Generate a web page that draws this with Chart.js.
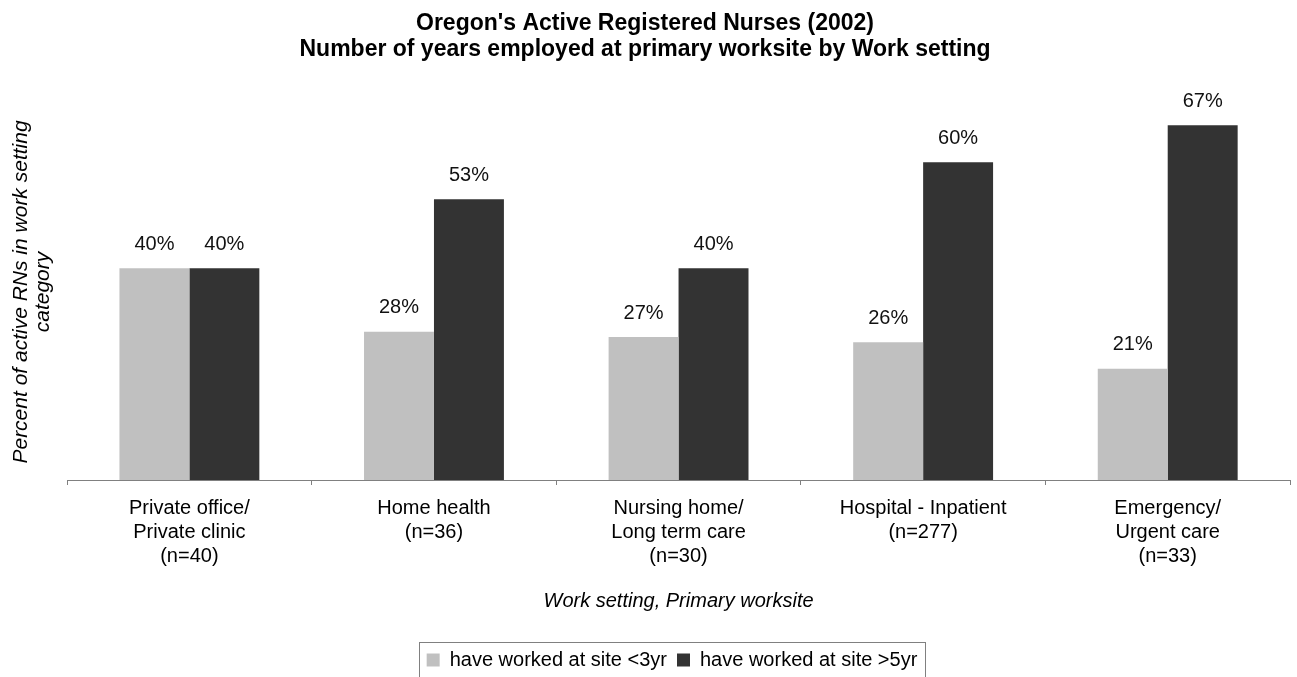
<!DOCTYPE html>
<html>
<head>
<meta charset="utf-8">
<title>Oregon's Active Registered Nurses (2002)</title>
<script src="https://cdn.jsdelivr.net/npm/chart.js@4.4.1/dist/chart.umd.min.js"></script>
<style>
  html, body { margin: 0; padding: 0; background: #fff; }
  #wrap { width: 1297px; height: 677px; }
</style>
</head>
<body>
<div id="wrap"><canvas id="nurse-chart" width="1297" height="677"></canvas></div>
<script>
// Chart data
const workSettings = [
  ['Private office/', 'Private clinic', '(n=40)'],
  ['Home health', '(n=36)'],
  ['Nursing home/', 'Long term care', '(n=30)'],
  ['Hospital - Inpatient', '(n=277)'],
  ['Emergency/', 'Urgent care', '(n=33)']
];
const under3yr = [40, 28, 27, 26, 21];
const over5yr = [40, 53, 40, 60, 67];
const seriesNames = ['have worked at site <3yr', 'have worked at site >5yr'];

Chart.defaults.font.family = "'Liberation Sans', Arial, sans-serif";
Chart.defaults.color = '#000';

// draws the % value above each bar
const barLabels = {
  id: 'barLabels',
  afterDatasetsDraw(chart) {
    const ctx = chart.ctx;
    ctx.save();
    ctx.font = "20px 'Liberation Sans', Arial, sans-serif";
    ctx.fillStyle = '#111';
    ctx.textAlign = 'center';
    ctx.textBaseline = 'middle';
    chart.data.datasets.forEach((ds, i) => {
      chart.getDatasetMeta(i).data.forEach((bar, j) => {
        ctx.fillText(ds.data[j] + '%', bar.x, bar.y - 24);
      });
    });
    ctx.restore();
  }
};

// nudge the legend a bit right/down (it sits off centre in the original)
const legendNudge = {
  id: 'legendNudge',
  afterLayout(chart) {
    const lg = chart.legend;
    lg.left += 27;
    lg.right += 27;
    lg.top += 5;
    lg.bottom += 5;
  }
};

// frame round the legend like the original
const legendBox = {
  id: 'legendBox',
  afterDraw(chart) {
    const boxes = chart.legend.legendHitBoxes;
    if (!boxes || !boxes.length) return;
    const left = Math.min(...boxes.map(b => b.left)) - 8;
    const right = Math.max(...boxes.map(b => b.left + b.width)) + 7;
    const top = Math.min(...boxes.map(b => b.top)) - 8;
    const bottom = Math.max(...boxes.map(b => b.top + b.height)) + 8;
    const ctx = chart.ctx;
    ctx.save();
    ctx.strokeStyle = '#808080';
    ctx.lineWidth = 1;
    ctx.strokeRect(Math.round(left) + 0.5, Math.round(top) + 0.5, Math.round(right - left), Math.round(bottom - top));
    ctx.restore();
  }
};

const ctx = document.getElementById('nurse-chart').getContext('2d');
const nurseChart = new Chart(ctx, {
  type: 'bar',
  data: {
    labels: workSettings,
    datasets: [{
      label: seriesNames[0],
      data: under3yr,
      backgroundColor: '#c0c0c0',
      categoryPercentage: 0.572,
      barPercentage: 1
    }, {
      label: seriesNames[1],
      data: over5yr,
      backgroundColor: '#333333',
      categoryPercentage: 0.572,
      barPercentage: 1
    }]
  },
  options: {
    responsive: false,
    animation: false,
    layout: { padding: { left: 0, right: 7, top: 0, bottom: 2 } },
    scales: {
      x: {
        grid: {
          display: true,
          drawOnChartArea: false,
          drawTicks: true,
          tickLength: 5,
          offset: true,
          color: '#808080'
        },
        border: { display: true, color: '#808080', width: 1 },
        ticks: {
          font: { size: 20, lineHeight: 1.2 },
          color: '#000',
          padding: 11,
          maxRotation: 0,
          autoSkip: false
        },
        title: {
          display: true,
          text: 'Work setting, Primary worksite',
          font: { size: 20, style: 'italic', lineHeight: 1.2 },
          color: '#000',
          padding: { top: 10, bottom: 22 }
        }
      },
      y: {
        min: 0,
        max: 71,
        grid: { display: false, drawTicks: false },
        border: { display: false },
        ticks: { display: false },
        title: {
          display: true,
          text: ['Percent of active RNs in work setting', 'category'],
          font: { size: 21, style: 'italic', lineHeight: 1.05 },
          color: '#000',
          padding: { top: 10, bottom: 13 }
        }
      }
    },
    plugins: {
      title: {
        display: true,
        text: ["Oregon's Active Registered Nurses (2002)", 'Number of years employed at primary worksite by Work setting'],
        font: { size: 23, weight: 'bold', lineHeight: 1.13 },
        color: '#000',
        padding: { top: 11, bottom: 41 }
      },
      legend: {
        position: 'bottom',
        labels: {
          boxWidth: 13,
          boxHeight: 13,
          padding: 10,
          color: '#000',
          font: { size: 20 }
        }
      },
      tooltip: { enabled: false }
    }
  },
  plugins: [barLabels, legendNudge, legendBox]
});
</script>
</body>
</html>
